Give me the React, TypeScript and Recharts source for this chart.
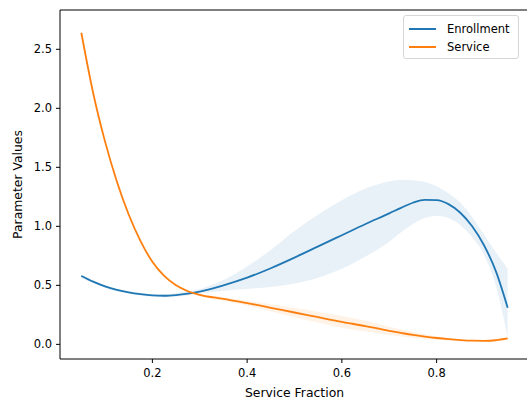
import React from "react";
import {
  ComposedChart,
  Area,
  Line,
  XAxis,
  YAxis,
  Legend,
  ReferenceLine,
} from "recharts";

const fractions = [
  0.05, 0.075, 0.1, 0.125, 0.15, 0.175, 0.2, 0.225, 0.25, 0.275, 0.3, 0.35, 0.4,
  0.45, 0.5, 0.55, 0.6, 0.65, 0.7, 0.725, 0.75, 0.775, 0.8, 0.825, 0.85, 0.875,
  0.9, 0.925, 0.95,
];

const enrollment = [
  0.58, 0.532, 0.492, 0.462, 0.44, 0.425, 0.415, 0.412, 0.418, 0.43, 0.447, 0.5,
  0.565, 0.645, 0.735, 0.83, 0.925, 1.02, 1.11, 1.157, 1.2, 1.225, 1.222, 1.188,
  1.115, 1.0, 0.84, 0.62, 0.31,
];
const enrollmentLow = [
  0.565, 0.52, 0.48, 0.45, 0.43, 0.415, 0.405, 0.4, 0.405, 0.415, 0.43, 0.455,
  0.47, 0.485, 0.515, 0.565, 0.64, 0.745, 0.87, 0.95, 1.02, 1.07, 1.09, 1.07,
  1.01, 0.91, 0.76, 0.5, 0.06,
];
const enrollmentHigh = [
  0.595, 0.54, 0.5, 0.47, 0.45, 0.435, 0.425, 0.425, 0.435, 0.45, 0.47, 0.545,
  0.66, 0.8, 0.96, 1.1, 1.22, 1.32, 1.38, 1.395, 1.39, 1.375, 1.34, 1.28, 1.2,
  1.08, 0.93, 0.78, 0.64,
];

const service = [
  2.64, 2.13, 1.72, 1.38, 1.1, 0.875, 0.7, 0.58, 0.5, 0.45, 0.42, 0.385, 0.35,
  0.31, 0.27, 0.23, 0.19, 0.155, 0.115, 0.097, 0.08, 0.066, 0.054, 0.044, 0.036,
  0.031, 0.03, 0.035, 0.05,
];
const serviceLow = [
  2.62, 2.115, 1.71, 1.37, 1.09, 0.867, 0.693, 0.573, 0.493, 0.443, 0.41, 0.37,
  0.33, 0.28, 0.23, 0.185, 0.14, 0.11, 0.08, 0.067, 0.055, 0.046, 0.039, 0.034,
  0.031, 0.026, 0.025, 0.03, 0.045,
];
const serviceHigh = [
  2.66, 2.145, 1.73, 1.39, 1.11, 0.883, 0.707, 0.587, 0.507, 0.457, 0.43, 0.4,
  0.37, 0.34, 0.31, 0.275, 0.24, 0.2, 0.15, 0.127, 0.105, 0.086, 0.069, 0.054,
  0.041, 0.036, 0.035, 0.04, 0.055,
];

const xTicks = [0.2, 0.4, 0.6, 0.8];
const yTicks = [0, 0.5, 1, 1.5, 2, 2.5];
const X_DOMAIN = [0.005, 0.995];
const Y_DOMAIN = [-0.124, 2.833];

const BLUE = "#1f77b4";
const ORANGE = "#ff7f0e";
const FONT = "'DejaVu Sans', sans-serif";

const data = fractions.map((x, i) => ({
  x,
  enrollment: enrollment[i],
  enrollmentBand: [enrollmentLow[i], enrollmentHigh[i]],
  service: service[i],
  serviceBand: [serviceLow[i], serviceHigh[i]],
}));

const legendItems = [
  { name: "Enrollment", color: BLUE },
  { name: "Service", color: ORANGE },
];

function LegendBox() {
  return (
    <div
      style={{
        boxSizing: "border-box",
        width: 116,
        height: 44,
        border: "1px solid #d6d6d6",
        borderRadius: 3,
        background: "rgba(255,255,255,0.8)",
        padding: "4px 0 0 5px",
        fontFamily: FONT,
        fontSize: 11.5,
        color: "#000",
      }}
    >
      {legendItems.map((it) => (
        <div
          key={it.name}
          style={{ display: "flex", alignItems: "center", height: 18 }}
        >
          <span
            style={{
              display: "inline-block",
              width: 27,
              height: 2,
              background: it.color,
              marginRight: 11,
            }}
          />
          <span>{it.name}</span>
        </div>
      ))}
    </div>
  );
}

export default function App() {
  const tickStyle = { fontFamily: FONT, fontSize: 11.5, fill: "#000" };
  const labelStyle = { fontFamily: FONT, fontSize: 12.4, fill: "#000" };
  return (
    <div
      style={{
        position: "fixed",
        left: 0,
        top: 0,
        width: 527,
        height: 404,
        overflow: "hidden",
        background: "#fff",
      }}
    >
      <ComposedChart
        width={535}
        height={404}
        data={data}
        margin={{ top: 10, right: 6, bottom: 0, left: 0 }}
      >
        <XAxis
          dataKey="x"
          type="number"
          domain={X_DOMAIN}
          ticks={xTicks}
          tickFormatter={(v) => v.toFixed(1)}
          height={45}
          tickSize={4}
          tickMargin={6}
          stroke="#000"
          tick={tickStyle}
          allowDataOverflow
          label={{
            value: "Service Fraction",
            position: "insideBottom",
            offset: 7,
            style: labelStyle,
          }}
        />
        <YAxis
          type="number"
          domain={Y_DOMAIN}
          ticks={yTicks}
          tickFormatter={(v) => v.toFixed(1)}
          width={60}
          tickSize={4}
          tickMargin={4}
          stroke="#000"
          tick={tickStyle}
          allowDataOverflow
          label={{
            value: "Parameter Values",
            angle: -90,
            position: "insideLeft",
            offset: 18,
            textAnchor: "middle",
            style: { ...labelStyle, textAnchor: "middle" },
          }}
        />
        <ReferenceLine y={Y_DOMAIN[1]} stroke="#000" strokeWidth={1} />
        <Area
          type="monotone"
          dataKey="enrollmentBand"
          stroke="none"
          fill={BLUE}
          fillOpacity={0.1}
          isAnimationActive={false}
          legendType="none"
        />
        <Area
          type="monotone"
          dataKey="serviceBand"
          stroke="none"
          fill={ORANGE}
          fillOpacity={0.1}
          isAnimationActive={false}
          legendType="none"
        />
        <Line
          type="monotone"
          dataKey="enrollment"
          name="Enrollment"
          stroke={BLUE}
          strokeWidth={1.8}
          dot={false}
          activeDot={false}
          isAnimationActive={false}
        />
        <Line
          type="monotone"
          dataKey="service"
          name="Service"
          stroke={ORANGE}
          strokeWidth={1.8}
          dot={false}
          activeDot={false}
          isAnimationActive={false}
        />
        <Legend
          layout="vertical"
          align="center"
          verticalAlign="middle"
          content={() => <LegendBox />}
          wrapperStyle={{ top: 15, left: 403, width: 116, height: 44 }}
        />
      </ComposedChart>
    </div>
  );
}
